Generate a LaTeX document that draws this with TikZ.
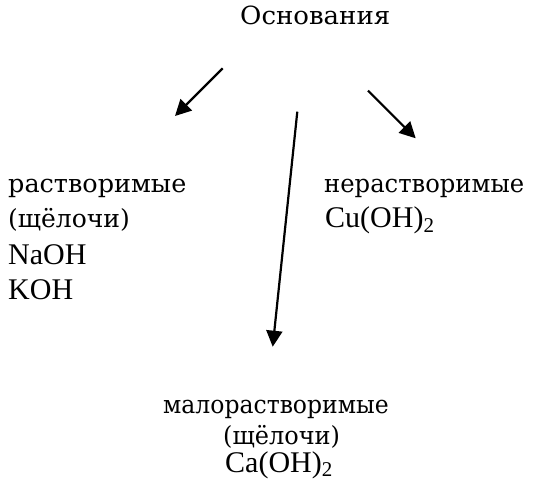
\documentclass[tikz,border=0pt]{standalone}
\usepackage{fontspec}
\setmainfont{Liberation Serif}
\newfontfamily\cyr{DejaVu Serif}
\usetikzlibrary{arrows.meta}
\tikzset{
  cyrtext/.style={inner sep=0pt, anchor=base west, font=\cyr\fontsize{25}{30}\selectfont},
  lattext/.style={inner sep=0pt, anchor=base west, font=\fontsize{30}{34}\selectfont},
  arr/.style={line width=2.2pt, -{Triangle[length=16pt,width=16pt]}}
}
\newcommand{\sx}[2]{\scalebox{#1}[1]{#2}}
\begin{document}
\begin{tikzpicture}[x=1pt,y=-1pt]
\useasboundingbox (0,0) rectangle (536,494);
\fill[white] (0,0) rectangle (536,494);
\node[cyrtext] (top) at (240,25) {\sx{1.04}{Основания}};
\node[cyrtext] (l1) at (8,193) {\sx{1.02}{растворимые}};
\node[cyrtext] (l2) at (8,228) {(щёлочи)};
\node[lattext] (l3) at (8,265) {NaOH};
\node[lattext] (l4) at (8,300) {KOH};
\node[cyrtext] (r1) at (324,193) {\sx{0.97}{нерастворимые}};
\node[lattext] (r2) at (325,228) {Cu(OH)\raisebox{-0.15em}{\fontsize{21}{24}\selectfont 2}};
\node[cyrtext] (b1) at (163,414) {\sx{0.94}{малорастворимые}};
\node[cyrtext] (b2) at (223,445) {\sx{0.96}{(щёлочи)}};
\node[lattext] (b3) at (225,472) {Ca(OH)\raisebox{-0.15em}{\fontsize{21}{24}\selectfont 2}};
\coordinate (a1s) at (222.7,68.3);
\coordinate (a1e) at (175,116);
\coordinate (a2s) at (368,90.7);
\coordinate (a2e) at (415.7,138.3);
\coordinate (a3s) at (297.3,111.7);
\coordinate (a3e) at (272.7,346.7);
\draw[arr] (a1s) -- (a1e);
\draw[arr] (a2s) -- (a2e);
\draw[arr] (a3s) -- (a3e);
\end{tikzpicture}
\end{document}
